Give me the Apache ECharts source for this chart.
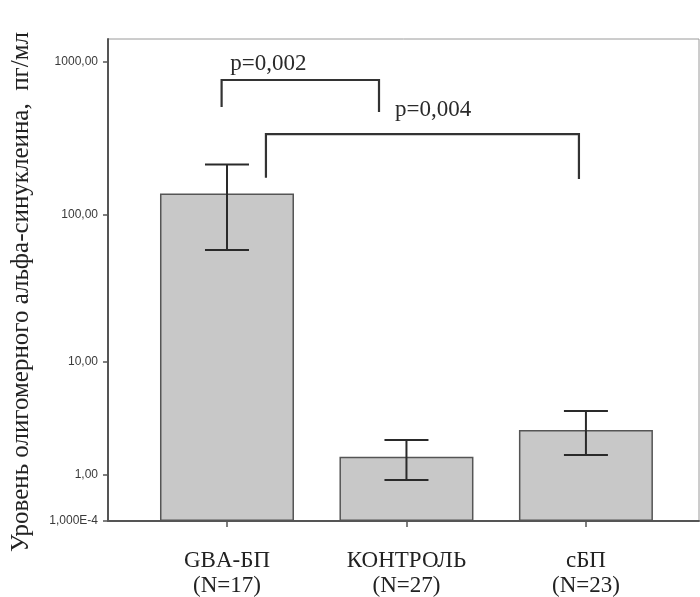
<!DOCTYPE html>
<html>
<head>
<meta charset="utf-8">
<script src="https://cdn.jsdelivr.net/npm/echarts@6/dist/echarts.min.js"></script>
<style>
html,body{margin:0;padding:0;background:#fff;}
#chart{width:700px;height:597px;}
</style>
</head>
<body>
<div id="chart"></div>
<script>
// ---- data ----
var categories = ['GBA-БП', 'КОНТРОЛЬ', 'сБП'];
var groupN = [17, 27, 23];
var meanValues = [137, 1.63, 2.93];
var errLow = [58, 0.85, 1.70];
var errHigh = [213, 2.38, 4.24];
var yTickValues = [0.0001, 1, 10, 100, 1000];
var yTickLabels = ['1,000E-4', '1,00', '10,00', '100,00', '1000,00'];
var yAxisTitle = 'Уровень олигомерного альфа-синуклеина,  пг/мл';
// significance brackets: [x-left, x-right, y-top, y-left-bottom, y-right-bottom]
var bracketX1 = [-0.03, 0.217];
var bracketX2 = [0.847, 1.961];
var bracketTop = [761, 337];
var bracketLeftEnd = [507, 174];
var bracketRightEnd = [470, 171];
var pLabels = ['p=0,002', 'p=0,004'];
var pLabelX = [0.23, 1.148];
var pLabelY = [970, 485];

// SPSS "safe log" scale: log10(1 + x)
function tr(v) { return Math.log(1 + v) / Math.LN10; }

var yTickT = yTickValues.map(tr);
function yLabelFor(t) {
  var best = 0, bd = Infinity;
  for (var i = 0; i < yTickT.length; i++) {
    var d = Math.abs(yTickT[i] - t);
    if (d < bd) { bd = d; best = i; }
  }
  return yTickLabels[best];
}

var barData = meanValues.map(function (v, i) { return [i, tr(v)]; });
var errData = meanValues.map(function (v, i) { return [i, tr(errLow[i]), tr(errHigh[i])]; });
var bracketData = bracketX1.map(function (x, i) {
  return [x, bracketX2[i], tr(bracketTop[i]), tr(bracketLeftEnd[i]), tr(bracketRightEnd[i])];
});
var pData = pLabels.map(function (s, i) { return [pLabelX[i], tr(pLabelY[i]), s]; });

var serif = '"Liberation Serif", "Times New Roman", serif';
var sans = '"Liberation Sans", Arial, sans-serif';

var chart = echarts.init(document.getElementById('chart'));
chart.setOption({
  animation: false,
  backgroundColor: '#fff',
  grid: {
    left: 108, top: 39, right: 1, bottom: 76,
    outerBoundsMode: 'none',
    containLabel: false,
    show: true, borderColor: '#9a9a9a', borderWidth: 1, backgroundColor: 'transparent'
  },
  xAxis: {
    type: 'value',
    min: -0.663, max: 2.630,
    splitLine: { show: false },
    axisLine: { show: true, onZero: false, lineStyle: { color: '#555', width: 2 } },
    axisTick: { show: true, length: 6, lineStyle: { color: '#555', width: 1.5 }, customValues: [0, 1, 2] },
    axisLabel: {
      customValues: [0, 1, 2],
      margin: 27,
      fontFamily: serif, fontSize: 23, lineHeight: 25, color: '#222',
      formatter: function (v) {
        var i = Math.round(v);
        return categories[i] + '\n(N=' + groupN[i] + ')';
      }
    }
  },
  yAxis: {
    type: 'value',
    min: 0, max: 3.15,
    splitLine: { show: false },
    axisLine: { show: true, onZero: false, lineStyle: { color: '#555', width: 2 } },
    axisTick: { show: true, length: 5, lineStyle: { color: '#555', width: 1.5 }, customValues: yTickT },
    axisLabel: {
      customValues: yTickT,
      margin: 10,
      fontFamily: sans, fontSize: 12, color: '#3a3a3a',
      formatter: function (v) { return yLabelFor(v); }
    },
    name: yAxisTitle,
    nameLocation: 'middle',
    nameRotate: 90,
    nameGap: 74,
    nameTextStyle: { fontFamily: serif, fontSize: 25, color: '#222', padding: [0, 0, 0, -24] }
  },
  series: [
    {
      type: 'bar',
      data: barData,
      barWidth: 134,
      itemStyle: { color: '#c8c8c8', borderColor: '#555', borderWidth: 1.5 },
      silent: true
    },
    {
      type: 'custom',
      data: errData,
      silent: true,
      z: 5,
      renderItem: function (params, api) {
        var x = api.value(0);
        var lo = api.coord([x, api.value(1)]);
        var hi = api.coord([x, api.value(2)]);
        var hw = 22;
        var st = { stroke: '#2a2a2a', lineWidth: 2 };
        return {
          type: 'group',
          children: [
            { type: 'line', shape: { x1: lo[0], y1: lo[1], x2: hi[0], y2: hi[1] }, style: st },
            { type: 'line', shape: { x1: hi[0] - hw, y1: hi[1], x2: hi[0] + hw, y2: hi[1] }, style: st },
            { type: 'line', shape: { x1: lo[0] - hw, y1: lo[1], x2: lo[0] + hw, y2: lo[1] }, style: st }
          ]
        };
      }
    },
    {
      type: 'custom',
      data: bracketData,
      silent: true,
      z: 5,
      renderItem: function (params, api) {
        var a = api.coord([api.value(0), api.value(3)]);
        var b = api.coord([api.value(0), api.value(2)]);
        var c = api.coord([api.value(1), api.value(2)]);
        var d = api.coord([api.value(1), api.value(4)]);
        return {
          type: 'polyline',
          shape: { points: [a, b, c, d] },
          style: { stroke: '#333', lineWidth: 2.2, fill: null }
        };
      }
    },
    {
      type: 'custom',
      data: pData,
      silent: true,
      z: 6,
      renderItem: function (params, api) {
        var p = api.coord([api.value(0), api.value(1)]);
        return {
          type: 'text',
          x: p[0], y: p[1],
          style: {
            text: pLabels[params.dataIndex],
            align: 'center', verticalAlign: 'middle',
            font: '23px ' + serif,
            fill: '#2a2a2a'
          }
        };
      }
    }
  ]
});
</script>
</body>
</html>
